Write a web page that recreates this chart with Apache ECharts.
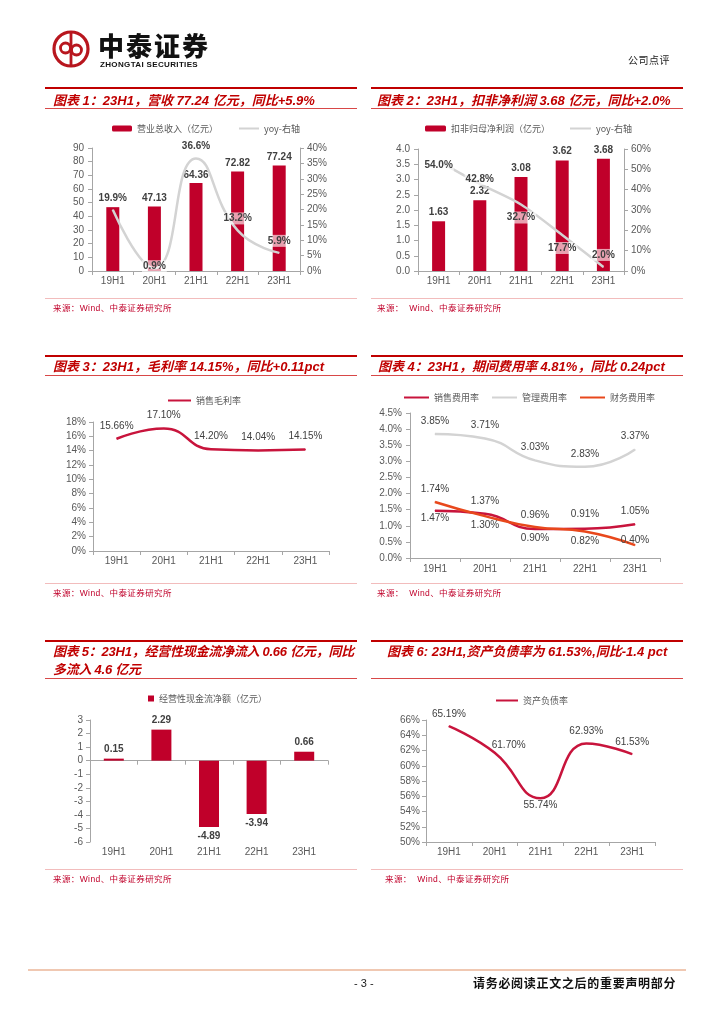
<!DOCTYPE html>
<html><head><meta charset="utf-8">
<script src="https://cdn.jsdelivr.net/npm/echarts/dist/echarts.min.js"></script>
<style>
html,body{margin:0;padding:0;background:#fff;}
#page{position:relative;width:724px;height:1024px;overflow:hidden;font-family:"Liberation Sans",Arial,"Noto Sans CJK SC",sans-serif;}
#chart{position:absolute;left:0;top:0;width:724px;height:1024px;z-index:0;}
.t{position:absolute;white-space:nowrap;z-index:2;}
.ttl{color:#C00000;font-weight:bold;font-style:italic;font-size:13px;line-height:18px;}
.src{color:#C0002A;font-size:8.5px;line-height:10px;font-family:"Liberation Sans","Noto Sans CJK SC",sans-serif;letter-spacing:0.4px;}
.ln{position:absolute;z-index:1;}
</style></head>
<body><div id="page">
<div id="chart"></div>
</div>
<script>
// ---------- data ----------
const categories = ['19H1','20H1','21H1','22H1','23H1'];
const revenue = [46.71, 47.13, 64.36, 72.82, 77.24];
const revenueYoy = [19.9, 0.9, 36.6, 13.2, 5.9];
const profit = [1.63, 2.32, 3.08, 3.62, 3.68];
const profitYoy = [54.0, 42.8, 32.7, 17.7, 2.0];
const grossMargin = [15.66, 17.10, 14.20, 14.04, 14.15];
const salesExpRate = [1.47, 1.37, 0.90, 0.91, 1.05];
const mgmtExpRate = [3.85, 3.71, 3.03, 2.83, 3.37];
const finExpRate = [1.74, 1.30, 0.96, 0.82, 0.40];
const opCashFlow = [0.15, 2.29, -4.89, -3.94, 0.66];
const debtRatio = [65.19, 61.70, 55.74, 62.93, 61.53];

const titles = [
  '图表 1：23H1，营收 77.24 亿元，同比+5.9%',
  '图表 2：23H1，扣非净利润 3.68 亿元，同比+2.0%',
  '图表 3：23H1，毛利率 14.15%，同比+0.11pct',
  '图表 4：23H1，期间费用率 4.81%，同比 0.24pct',
  '图表 5：23H1，经营性现金流净流入 0.66 亿元，同比<br>多流入 4.6 亿元',
  '图表 6: 23H1,资产负债率为 61.53%,同比-1.4 pct'
];
const sources = ['来源：Wind、中泰证券研究所','来源：&nbsp;&nbsp;Wind、中泰证券研究所'];

// ---------- label placement (style, px offsets from point centre) ----------
const off1 = [[0,-12],[0,-2],[0,-12],[0,-12],[0,-12]];
const off2 = [[0,4],[0,-5],[0,13],[0,13],[0,-12]];
const off3 = [[0,-13],[0,-13],[0,-13],[0,-13],[0,-13]];
const offSales = [[0,8],[0,-13],[0,9],[0,-14],[0,-13]];
const offMgmt = [[0,-13],[0,-13],[0,-13],[0,-13],[0,-13]];
const offFin = [[0,-13],[0,9],[0,-12],[0,10],[0,-5]];
const off6 = [[0,-12],[14,-8],[0,7],[0,-12],[0,-12]];

// ---------- static page text ----------
const page = document.getElementById('page');
function addDiv(cls, html, css){ const d=document.createElement('div'); d.className=cls; d.innerHTML=html; Object.assign(d.style, css); page.appendChild(d); return d; }
function hline(x1,x2,y,h,color){ addDiv('ln','',{left:x1+'px',top:y+'px',width:(x2-x1)+'px',height:h+'px',background:color}); }

addDiv('t','中泰证券',{left:'98px',top:'30px',fontFamily:'"Noto Sans CJK SC"',fontWeight:'900',fontSize:'26px',letterSpacing:'2px',color:'#111',lineHeight:'30px'});
addDiv('t','ZHONGTAI SECURITIES',{left:'100px',top:'60px',fontFamily:'"Liberation Sans"',fontWeight:'bold',fontSize:'8px',letterSpacing:'0.35px',color:'#111',lineHeight:'9px'});
addDiv('t','公司点评',{left:'628px',top:'54px',fontFamily:'"Noto Sans CJK SC"',fontSize:'10px',letterSpacing:'0.5px',color:'#222',lineHeight:'12px'});

const panels = [
  {x1:45,x2:357,top:87,title:92,bot:108,src:298,titleX:53,srcX:53},
  {x1:371,x2:683,top:87,title:92,bot:108,src:298,titleX:377,srcX:377},
  {x1:45,x2:357,top:355,title:358,bot:375,src:583,titleX:53,srcX:53},
  {x1:371,x2:683,top:355,title:358,bot:375,src:583,titleX:378,srcX:377},
  {x1:45,x2:357,top:640,title:643,bot:678,src:869,titleX:53,srcX:53},
  {x1:371,x2:683,top:640,title:643,bot:678,src:869,titleX:387,srcX:385}
];
panels.forEach((p,i)=>{
  hline(p.x1,p.x2,p.top,2,'#C00000');
  hline(p.x1,p.x2,p.bot,1,'#D84848');
  hline(p.x1,p.x2,p.src,1,'#F2BCBC');
  const t = addDiv('t ttl',titles[i],{left:p.titleX+'px',top:p.title+'px'});
  if (i===4) t.style.letterSpacing='-0.25px';
  addDiv('t src',sources[i%2],{left:p.srcX+'px',top:(p.src+5)+'px'});
});
hline(28,686,969,2,'#F0C8B2');
addDiv('t','- 3 -',{left:'354px',top:'976px',fontSize:'11px',color:'#222',lineHeight:'14px'});
addDiv('t','请务必阅读正文之后的重要声明部分',{left:'473px',top:'975px',fontFamily:'"Noto Sans CJK SC"',fontWeight:'bold',fontSize:'12px',letterSpacing:'0.7px',color:'#111',lineHeight:'15px'});

// ---------- chart ----------
const AX = '#A6A6A6', TXT = '#595959', LBL = '#404040';
const FONT = '"Liberation Sans", Arial, sans-serif';
const CJK = '"Noto Sans CJK SC", sans-serif';
const RED = '#C0002A', GRAY = '#D3D3D3', ORANGE = '#E8481C', CRIM = '#C8143C';

function catAxis(g, extra){
  return Object.assign({type:'category', gridIndex:g, data:categories, boundaryGap:true,
    axisLine:{show:true,lineStyle:{color:AX,width:1}},
    axisTick:{show:true,length:4,lineStyle:{color:AX}},
    axisLabel:{color:TXT,fontSize:10,fontFamily:FONT,margin:5},
    splitLine:{show:false}}, extra||{});
}
function valAxis(g, min, max, interval, fmt, pos, margin){
  return {type:'value', gridIndex:g, min, max, interval, position:pos||'left',
    axisLine:{show:true,lineStyle:{color:AX,width:1}},
    axisTick:{show:true,length:4,lineStyle:{color:AX}},
    axisLabel:{color:TXT,fontSize:10,fontFamily:FONT,margin:margin||8,formatter:fmt},
    splitLine:{show:false}};
}
const pct0 = v => v + '%';
const pct1 = v => v.toFixed(1) + '%';
const fix1 = v => v.toFixed(1);

function lineData(arr, offs){
  return arr.map((v,i)=>({value:v, label:{offset:offs[i]}}));
}
function lineSeries(name, data, offs, color, xi, yi, fmt, extra){
  return Object.assign({type:'line', name, xAxisIndex:xi, yAxisIndex:yi, smooth:true,
    symbol:'circle', symbolSize:1, showSymbol:true,
    lineStyle:{color, width:2.5}, itemStyle:{color},
    label:{show:true, position:'inside', color:LBL, fontSize:10, fontFamily:FONT, formatter:p=>fmt(p.value)},
    data: lineData(data, offs), z:3}, extra||{});
}

const legendText = {color:TXT, fontSize:9, fontFamily:CJK};
const lineItem = name => ({name, itemStyle:{opacity:0}});

const option = {
  animation:false,
  grid:[
    {left:92, top:148, width:208, height:123},
    {left:418, top:149, width:206, height:122},
    {left:93, top:422, width:236, height:129},
    {left:410, top:413, width:250, height:145},
    {left:90, top:720, width:238, height:122},
    {left:426, top:720, width:229, height:122}
  ],
  legend:[
    {left:112, top:124, padding:0, itemWidth:20, itemHeight:6, itemGap:20, textStyle:legendText, data:['营业总收入（亿元）',lineItem('yoy-右轴')]},
    {left:425, top:124, padding:0, itemWidth:21, itemHeight:6, itemGap:19, textStyle:legendText, data:['扣非归母净利润（亿元）',lineItem('yoy-右轴')]},
    {left:167, top:396, padding:0, itemWidth:23, itemHeight:6, textStyle:legendText, data:[lineItem('销售毛利率')]},
    {left:403, top:393, padding:0, itemWidth:25, itemHeight:6, itemGap:12, textStyle:legendText, data:[lineItem('销售费用率'),lineItem('管理费用率'),lineItem('财务费用率')]},
    {left:148, top:694, padding:0, itemWidth:6, itemHeight:6, textStyle:legendText, data:[{name:'经营性现金流净额（亿元）',icon:'rect'}]},
    {left:495, top:696, padding:0, itemWidth:22, itemHeight:6, textStyle:legendText, data:[lineItem('资产负债率')]}
  ],
  xAxis:[
    catAxis(0), catAxis(1), catAxis(2), catAxis(3, {axisLabel:{color:TXT,fontSize:10,fontFamily:FONT,margin:6}}),
    catAxis(4, {axisLabel:{show:false}}),
    catAxis(4, {position:'bottom', axisLine:{show:false,onZero:false}, axisTick:{show:false}}),
    catAxis(5)
  ],
  yAxis:[
    valAxis(0,0,90,10,null,'left',8),
    valAxis(0,0,40,5,pct0,'right',7),
    valAxis(1,0,4,0.5,fix1,'left',8),
    valAxis(1,0,60,10,pct0,'right',7),
    valAxis(2,0,18,2,pct0,'left',7),
    valAxis(3,0,4.5,0.5,pct1,'left',8),
    valAxis(4,-6,3,1,null,'left',7),
    valAxis(5,50,66,2,pct0,'left',6)
  ],
  series:[
    {type:'bar', name:'营业总收入（亿元）', xAxisIndex:0, yAxisIndex:0, barWidth:13,
      itemStyle:{color:RED},
      label:{show:true, position:'top', distance:3, color:LBL, fontSize:10, fontWeight:'bold', fontFamily:FONT, formatter:p=>p.value.toFixed(2)},
      data: revenue.map((v,i)=> i===0 ? {value:v, label:{show:false}} : v)},
    lineSeries('yoy-右轴', revenueYoy, off1, GRAY, 0, 1, pct1,
      {label:{show:true, position:'inside', color:LBL, fontSize:10, fontWeight:'bold', fontFamily:FONT, backgroundColor:'rgba(255,255,255,0.63)', padding:[1,1], formatter:p=>pct1(p.value)}}),
    {type:'bar', name:'扣非归母净利润（亿元）', xAxisIndex:1, yAxisIndex:2, barWidth:13,
      itemStyle:{color:RED},
      label:{show:true, position:'top', distance:4, color:LBL, fontSize:10, fontWeight:'bold', fontFamily:FONT, formatter:p=>p.value.toFixed(2)},
      data: profit},
    lineSeries('yoy-右轴', profitYoy, off2, GRAY, 1, 3, pct1,
      {smooth:0.3, label:{show:true, position:'inside', color:LBL, fontSize:10, fontWeight:'bold', fontFamily:FONT, backgroundColor:'rgba(255,255,255,0.63)', padding:[1,1], formatter:p=>pct1(p.value)}}),
    lineSeries('销售毛利率', grossMargin, off3, CRIM, 2, 4, v=>v.toFixed(2)+'%'),
    lineSeries('销售费用率', salesExpRate, offSales, CRIM, 3, 5, v=>v.toFixed(2)+'%'),
    lineSeries('管理费用率', mgmtExpRate, offMgmt, GRAY, 3, 5, v=>v.toFixed(2)+'%'),
    lineSeries('财务费用率', finExpRate, offFin, ORANGE, 3, 5, v=>v.toFixed(2)+'%'),
    {type:'bar', name:'经营性现金流净额（亿元）', xAxisIndex:4, yAxisIndex:6, barWidth:20,
      itemStyle:{color:RED},
      label:{show:true, distance:4, color:LBL, fontSize:10, fontWeight:'bold', fontFamily:FONT, formatter:p=>p.value.toFixed(2)},
      data: opCashFlow.map(v=>({value:v, label:{position: v>=0?'top':'bottom'}}))},
    lineSeries('资产负债率', debtRatio, off6, CRIM, 6, 7, v=>v.toFixed(2)+'%')
  ],
  graphic:[
    {type:'circle', shape:{cx:71, cy:49, r:17}, style:{fill:'none', stroke:'#B8161E', lineWidth:3.2}},
    {type:'line', shape:{x1:71, y1:33, x2:71, y2:65}, style:{stroke:'#B8161E', lineWidth:2.8}},
    {type:'circle', shape:{cx:65.5, cy:48, r:5}, style:{fill:'none', stroke:'#B8161E', lineWidth:2.8}},
    {type:'circle', shape:{cx:76.5, cy:50, r:5}, style:{fill:'none', stroke:'#B8161E', lineWidth:2.8}}
  ]
};
const chart = echarts.init(document.getElementById('chart'), null, {renderer:'canvas'});
chart.setOption(option);
</script>
</body></html>
